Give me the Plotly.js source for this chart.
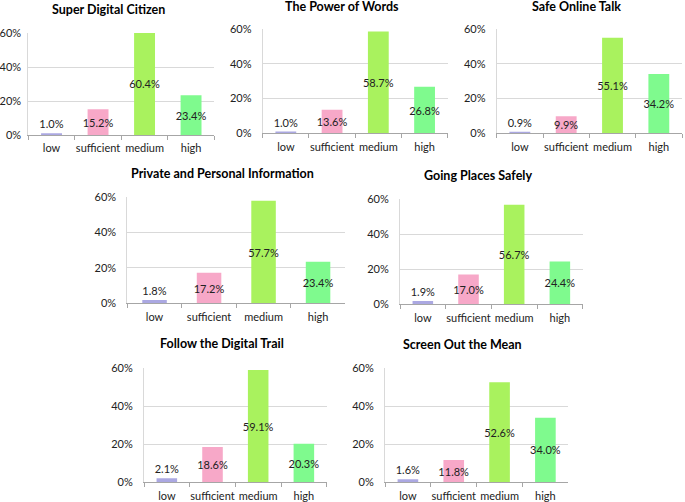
<!DOCTYPE html>
<html>
<head>
<meta charset="utf-8">
<script src="https://cdn.plot.ly/plotly-3.0.1.min.js"></script>
<style>html,body{margin:0;padding:0;background:#fff;}#chart{width:685px;height:502px;}</style>
</head>
<body>
<div id="chart"></div>
<script>
const categories = ["low", "sufficient", "medium", "high"];
const panelTitles = [
  "Super Digital Citizen",
  "The Power of Words",
  "Safe Online Talk",
  "Private and Personal Information",
  "Going Places Safely",
  "Follow the Digital Trail",
  "Screen Out the Mean"
];
const superDigitalCitizen = [1.0, 15.2, 60.4, 23.4];
const powerOfWords = [1.0, 13.6, 58.7, 26.8];
const safeOnlineTalk = [0.9, 9.9, 55.1, 34.2];
const privatePersonalInfo = [1.8, 17.2, 57.7, 23.4];
const goingPlacesSafely = [1.9, 17.0, 56.7, 24.4];
const followDigitalTrail = [2.1, 18.6, 59.1, 20.3];
const screenOutMean = [1.6, 11.8, 52.6, 34.0];
const yTickVals = [0, 20, 40, 60];
const yTickText = ["0%", "20%", "40%", "60%"];

const seriesList = [superDigitalCitizen, powerOfWords, safeOnlineTalk, privatePersonalInfo,
  goingPlacesSafely, followDigitalTrail, screenOutMean];

// pixel boxes of plot areas: [left, right, top(60%), bottom(0%)], title center [x, y]
const W = 685, H = 502;
const boxes = [
  {l: 28.3, r: 214.3, t: 33, b: 135, tx: 108, ty: 10, ys: 4},
  {l: 262.7, r: 447.7, t: 29.3, b: 133.3, tx: 341.7, ty: 7, ys: 8},
  {l: 496.7, r: 682, t: 29.3, b: 133.3, tx: 576.7, ty: 7, ys: 8},
  {l: 127.3, r: 345.3, t: 196.7, b: 303.3, tx: 222.7, ty: 173.3, ys: 8},
  {l: 400, r: 582.7, t: 199, b: 304.3, tx: 477.7, ty: 175, ys: 8},
  {l: 144, r: 326.7, t: 368.3, b: 482.3, tx: 222.3, ty: 343.3, ys: 8},
  {l: 385, r: 568.3, t: 368.3, b: 482.3, tx: 462.7, ty: 344, ys: 8}
];
const colors = ["#aba8e2", "#f7a8c8", "#a9f25e", "#7ffa8e"];
const FONT = "Lato, 'Open Sans', sans-serif";

const data = [];
const layout = {
  width: W, height: H,
  margin: {l: 0, r: 0, t: 0, b: 0},
  paper_bgcolor: "#ffffff",
  plot_bgcolor: "#ffffff",
  showlegend: false,
  bargap: 0.55,
  font: {family: FONT, size: 11, color: "#222"},
  annotations: []
};

seriesList.forEach((vals, i) => {
  const n = i + 1;
  const xa = n === 1 ? "x" : "x" + n;
  const ya = n === 1 ? "y" : "y" + n;
  data.push({
    type: "bar",
    x: categories,
    y: vals,
    xaxis: xa, yaxis: ya,
    marker: {color: colors},
    text: vals.map(v => v.toFixed(1) + "%"),
    textposition: vals.map(v => v < 5 ? "outside" : "inside"),
    insidetextanchor: "middle",
    textangle: 0,
    constraintext: "none",
    cliponaxis: true,
    textfont: {family: FONT, size: 11, color: "#222"},
    insidetextfont: {family: FONT, size: 11, color: "#222"},
    outsidetextfont: {family: FONT, size: 11, color: "#222"},
    hoverinfo: "none"
  });
  const b = boxes[i];
  const xKey = n === 1 ? "xaxis" : "xaxis" + n;
  const yKey = n === 1 ? "yaxis" : "yaxis" + n;
  layout[xKey] = {
    domain: [b.l / W, b.r / W],
    anchor: ya,
    type: "category",
    tickson: "boundaries",
    ticks: "outside",
    ticklen: 4,
    tickcolor: "#a6a6a6",
    tickangle: 0,
    ticklabelstandoff: 3,
    showline: true,
    linecolor: "#a6a6a6",
    linewidth: 1,
    showgrid: false,
    zeroline: false,
    tickfont: {family: FONT, size: 11, color: "#222"},
    fixedrange: true
  };
  layout[yKey] = {
    domain: [1 - b.b / H, 1 - b.t / H],
    anchor: xa,
    range: [0, 60],
    tickvals: yTickVals,
    ticktext: yTickText,
    showline: true,
    linecolor: "#d9d9d9",
    linewidth: 1,
    showgrid: true,
    gridcolor: "#d9d9d9",
    gridwidth: 1,
    zeroline: false,
    ticks: "",
    ticklabelstandoff: b.ys,
    tickfont: {family: FONT, size: 11, color: "#222"},
    fixedrange: true
  };
  layout.annotations.push({
    xref: "paper", yref: "paper",
    x: b.tx / W, y: 1 - b.ty / H,
    xanchor: "center", yanchor: "middle",
    text: "<b>" + panelTitles[i] + "</b>",
    showarrow: false,
    font: {family: FONT, size: 12.5, color: "#000"}
  });
});

Plotly.newPlot("chart", data, layout, {staticPlot: true, displayModeBar: false});
</script>
</body>
</html>
